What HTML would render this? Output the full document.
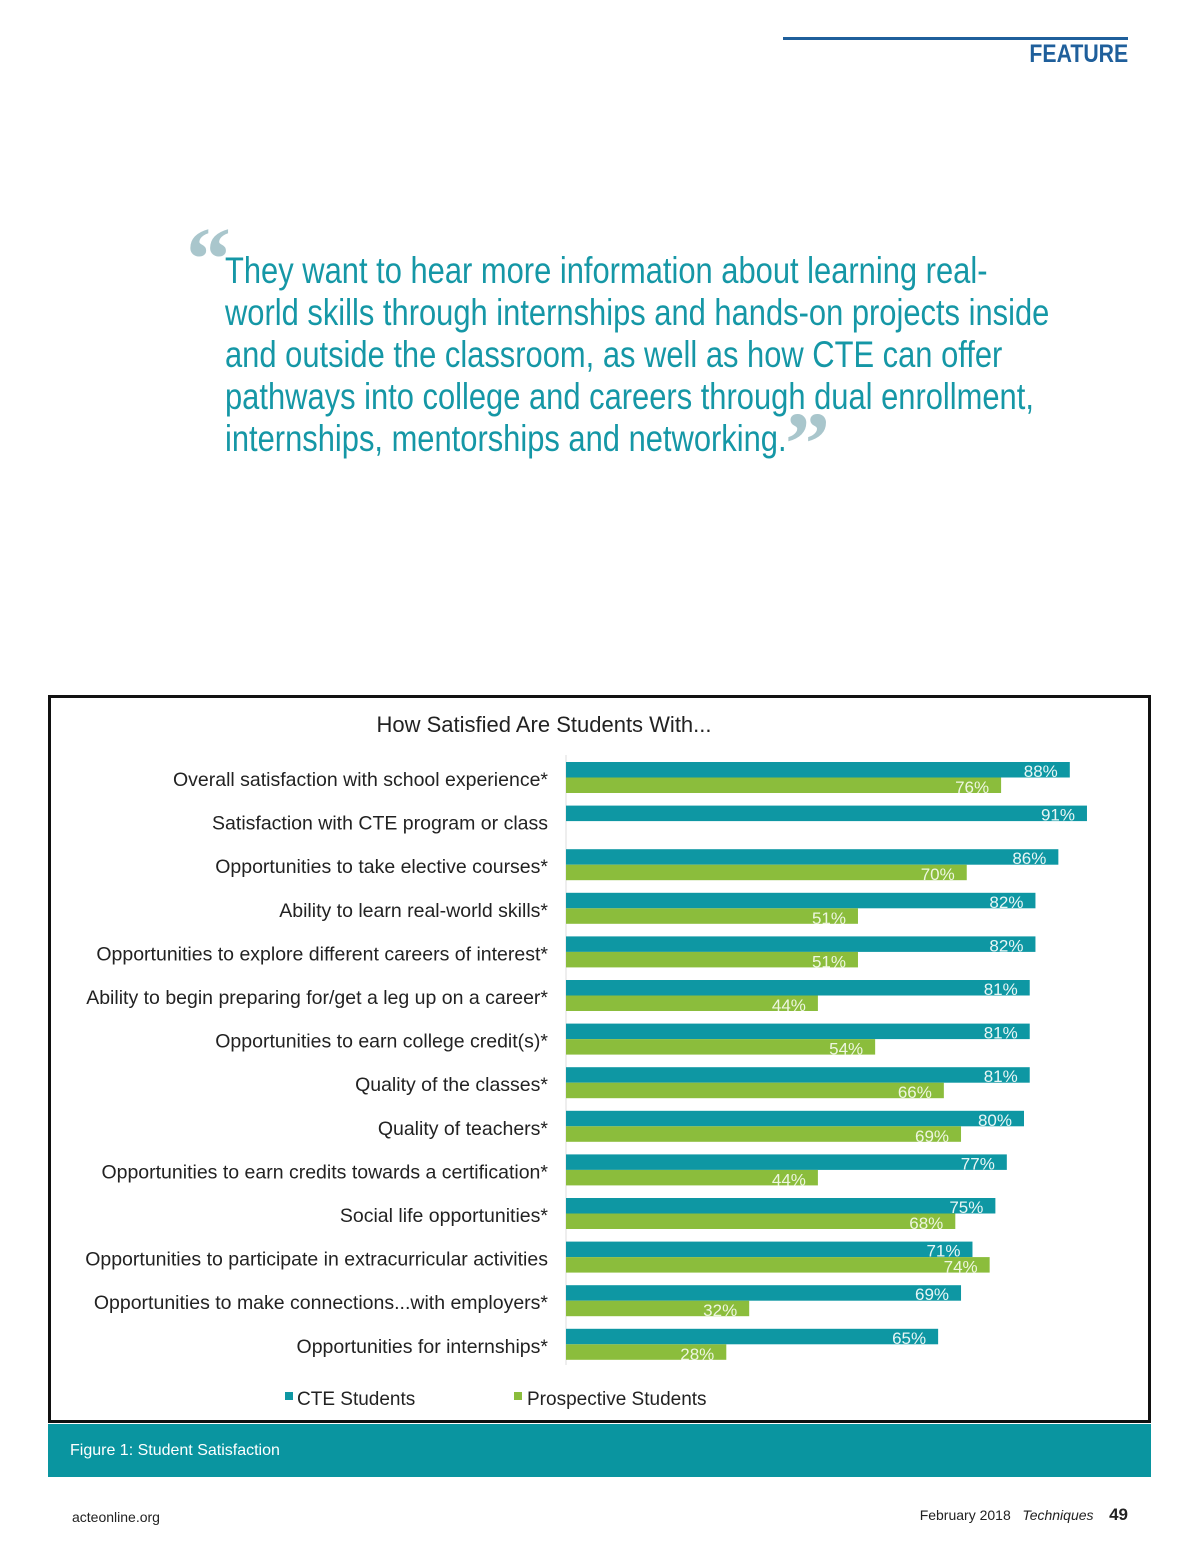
<!DOCTYPE html>
<html><head><meta charset="utf-8"><style>
body{margin:0;width:1200px;height:1558px;background:#fff;position:relative;font-family:"Liberation Sans",sans-serif;overflow:hidden}
.abs{position:absolute}
.quote{left:225px;top:250px;font-family:"Liberation Sans Narrow","Liberation Sans",sans-serif;font-size:37px;line-height:42px;color:#1597a6;white-space:nowrap;transform:scaleX(0.835);transform-origin:left top}
</style></head><body>
<div class="abs" style="left:783px;top:37px;width:345px;height:3px;background:#1f5f9b"></div>
<div class="abs" style="right:72px;top:40px;font-family:'Liberation Sans Narrow','Liberation Sans',sans-serif;font-weight:bold;font-size:25px;color:#1f5f9b;transform:scaleX(0.85);transform-origin:right">FEATURE</div>
<div class="abs" style="left:186px;top:215px;font-family:'Liberation Serif',serif;font-size:90px;font-weight:bold;color:#a9c6cc;line-height:90px">“</div>
<div class="abs quote">They want to hear more information about learning real-<br>world skills through internships and hands-on projects inside<br>and outside the classroom, as well as how CTE can offer<br>pathways into college and careers through dual enrollment,<br>internships, mentorships and networking.</div>
<div class="abs" style="left:785px;top:400px;font-family:'Liberation Serif',serif;font-size:90px;font-weight:bold;color:#a9c6cc;line-height:90px">”</div>

<svg class="abs" style="left:0;top:0" width="1200" height="1558">
<rect x="49.5" y="696.5" width="1100" height="725" fill="none" stroke="#111" stroke-width="3"/>
<text x="544" y="732" text-anchor="middle" font-size="22" fill="#222">How Satisfied Are Students With...</text>
<line x1="566" y1="755" x2="566" y2="1365" stroke="#ddd"/>
<g id="bars"></g>
<rect x="285" y="1392" width="8" height="8" fill="#0e97a3"/>
<text x="297" y="1405" font-size="19" fill="#222">CTE Students</text>
<rect x="514" y="1392" width="8" height="8" fill="#8bbd3c"/>
<text x="527" y="1405" font-size="19" fill="#222">Prospective Students</text>
<rect x="48" y="1424" width="1103" height="53" fill="#0a95a0"/>
<text x="70" y="1455" font-size="16" fill="#fff">Figure 1: Student Satisfaction</text>
</svg>
<div class="abs" style="left:72px;top:1509px;font-size:14px;color:#222">acteonline.org</div>
<div class="abs" style="right:72px;top:1505px;font-size:14px;color:#222">February 2018 &nbsp;&nbsp;<i>Techniques</i>&nbsp;&nbsp;&nbsp; <b style="font-size:17px">49</b></div>
<script>
const categories=["Overall  satisfaction with school experience*","Satisfaction with CTE program or class","Opportunities to take elective courses*","Ability to learn real-world skills*","Opportunities to explore different careers of interest*","Ability to begin preparing for/get a leg up on a career*","Opportunities to earn college credit(s)*","Quality of the classes*","Quality of teachers*","Opportunities to earn credits towards a certification*","Social life opportunities*","Opportunities to participate in extracurricular activities","Opportunities to make connections...with employers*","Opportunities for internships*"];
const cteValues=[88,91,86,82,82,81,81,81,80,77,75,71,69,65];
const prospectiveValues=[76,null,70,51,51,44,54,66,69,44,68,74,32,28];
const x0=566,pxPer=5.725,top0=762,pitch=43.6,bh=15.5;
const xs=v=>x0+v*pxPer;
const g=document.getElementById('bars');
const NS='http://www.w3.org/2000/svg';
function mk(tag,attrs){const e=document.createElementNS(NS,tag);for(const k in attrs)e.setAttribute(k,attrs[k]);g.appendChild(e);return e;}
categories.forEach((c,i)=>{
  const t=top0+i*pitch;
  const lab=mk('text',{x:548,y:t+24,'text-anchor':'end','font-size':19.5,fill:'#222'});
  lab.textContent=c;
  
  
  const v=cteValues[i];
  const r=mk('rect',{x:x0,y:t,width:xs(v)-x0,height:bh,fill:'#0e97a3'});
  
  
  const tv=mk('text',{x:xs(v)-12,y:t+15,'text-anchor':'end','font-size':17,fill:'#e8f6f6'});
  tv.textContent=v+'%';
  
  
  const p=prospectiveValues[i];
  if(p!=null){
    const r2=mk('rect',{x:x0,y:t+bh,width:xs(p)-x0,height:bh,fill:'#8bbd3c'});
    
    
    const tp=mk('text',{x:xs(p)-12,y:t+31,'text-anchor':'end','font-size':17,fill:'#eef6e0'});
    tp.textContent=p+'%';
    
    
  }
});
</script>
</body></html>
